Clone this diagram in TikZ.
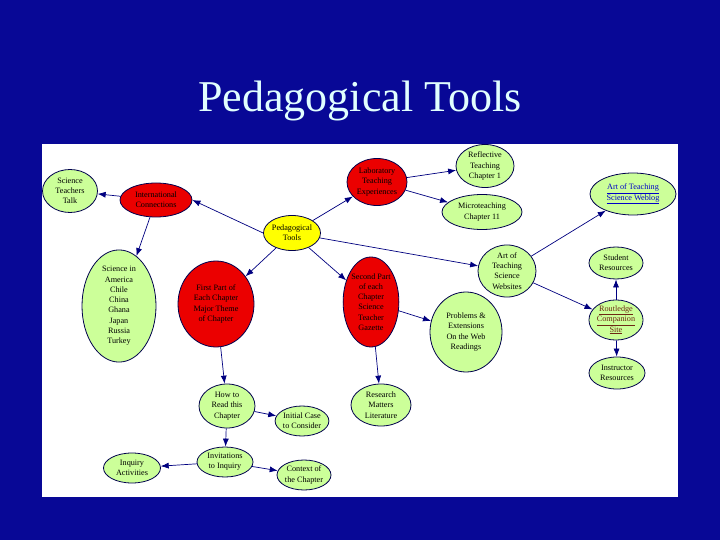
\documentclass[tikz,border=0pt]{standalone}
\usepackage{fontspec}
\setmainfont{Liberation Serif}
\usetikzlibrary{shapes.geometric,arrows.meta}
\definecolor{bgblue}{RGB}{8,8,150}
\definecolor{nodegreen}{RGB}{204,255,153}
\definecolor{nodered}{RGB}{235,0,0}
\definecolor{nodeyellow}{RGB}{255,255,0}
\definecolor{edgenavy}{RGB}{0,0,128}
\definecolor{titlecol}{RGB}{225,255,255}
\definecolor{linkblue}{RGB}{0,0,200}
\definecolor{linkbrown}{RGB}{110,40,20}
\begin{document}
\begin{tikzpicture}[x=1pt,y=-1pt,
  bub/.style={ellipse, draw=edgenavy!60!black, line width=0.8pt, inner sep=0pt, align=center, font=\fontsize{8.2}{10.3}\selectfont},
  gr/.style={bub, fill=nodegreen},
  rd/.style={bub, fill=nodered},
  yl/.style={bub, fill=nodeyellow},
  sz/.style 2 args={minimum width=#1pt, minimum height=#2pt},
  link/.style={draw=edgenavy, line width=0.7pt, -{Latex[length=8pt,width=6pt]}}
]
\useasboundingbox (0,0) rectangle (720,540);
\fill[bgblue] (0,0) rectangle (720,540);
\fill[white] (42,144) rectangle (678,497);
\node[text=titlecol, font=\fontsize{44}{48}\selectfont, anchor=base] (title) at (360,112) {Pedagogical Tools};

\node[gr, sz={55}{43}] (stt) at (70,191) {Science\\Teachers\\Talk};
\node[rd, sz={72}{34}] (ic) at (156,200) {International\\Connections};
\node[yl, sz={57}{35}] (pt) at (292,233) {Pedagogical\\Tools};
\node[rd, sz={60}{47}] (lte) at (377,182) {Laboratory\\Teaching\\Experiences};
\node[gr, sz={58}{43}] (rt) at (485,166) {Reflective\\Teaching\\Chapter 1};
\node[gr, sz={80}{35}] (mt) at (482,212) {Microteaching\\Chapter 11};
\node[gr, sz={86}{42}, text=linkblue] (web) at (633,194) {\underline{Art of Teaching}\\\underline{Science Weblog}};
\node[gr, sz={74}{106}] (sia) at (119,306) {Science in\\America\\Chile\\China\\Ghana\\Japan\\Russia\\Turkey};
\node[rd, sz={76}{86}] (fp) at (216,304) {First Part of\\Each Chapter\\Major Theme\\of Chapter};
\node[rd, sz={54}{90}] (sp) at (371,302) {Second Part\\of each\\Chapter\\Science\\Teacher\\Gazette};
\node[gr, sz={58}{52}] (aw) at (507,271) {Art of\\Teaching\\Science\\Websites};
\node[gr, sz={72}{80}] (pe) at (466,332) {Problems \&\\Extensions\\On the Web\\Readings};
\node[gr, sz={54}{32}] (sr) at (616,263) {Student\\Resources};
\node[gr, sz={54}{36}, text=linkbrown] (rcs) at (616,320) {\underline{Routledge}\\\underline{Companion}\\\underline{Site}};
\node[gr, sz={56}{32}] (ir) at (617,373) {Instructor\\Resources};
\node[gr, sz={56}{44}] (htr) at (227,406) {How to\\Read this\\Chapter};
\node[gr, sz={52}{30}] (icc) at (302,421) {Initial Case\\to Consider};
\node[gr, sz={56}{30}] (inv) at (225,462) {Invitations\\to Inquiry};
\node[gr, sz={54}{30}] (ctx) at (304,475) {Context of\\the Chapter};
\node[gr, sz={57}{30}] (ia) at (132,468) {Inquiry\\Activities};
\node[gr, sz={60}{42}] (rm) at (381,405) {Research\\Matters\\Literature};

\draw[link] (ic) -- (stt);
\draw[link] (pt.west) -- (ic.east);
\draw[link] (ic) -- (sia);
\draw[link] (pt) -- (lte);
\draw[link] (lte) -- (rt);
\draw[link] (lte) -- (mt);
\draw[link] (pt) -- (aw);
\draw[link] (aw) -- (web);
\draw[link] (aw) -- (rcs);
\draw[link] (rcs) -- (sr);
\draw[link] (rcs) -- (ir);
\draw[link] (pt) -- (fp);
\draw[link] (pt) -- (sp);
\draw[link] (sp) -- (pe);
\draw[link] (sp) -- (rm);
\draw[link] (fp) -- (htr);
\draw[link] (htr) -- (icc);
\draw[link] (htr) -- (inv);
\draw[link] (inv) -- (ctx);
\draw[link] (inv) -- (ia);
\end{tikzpicture}
\end{document}
